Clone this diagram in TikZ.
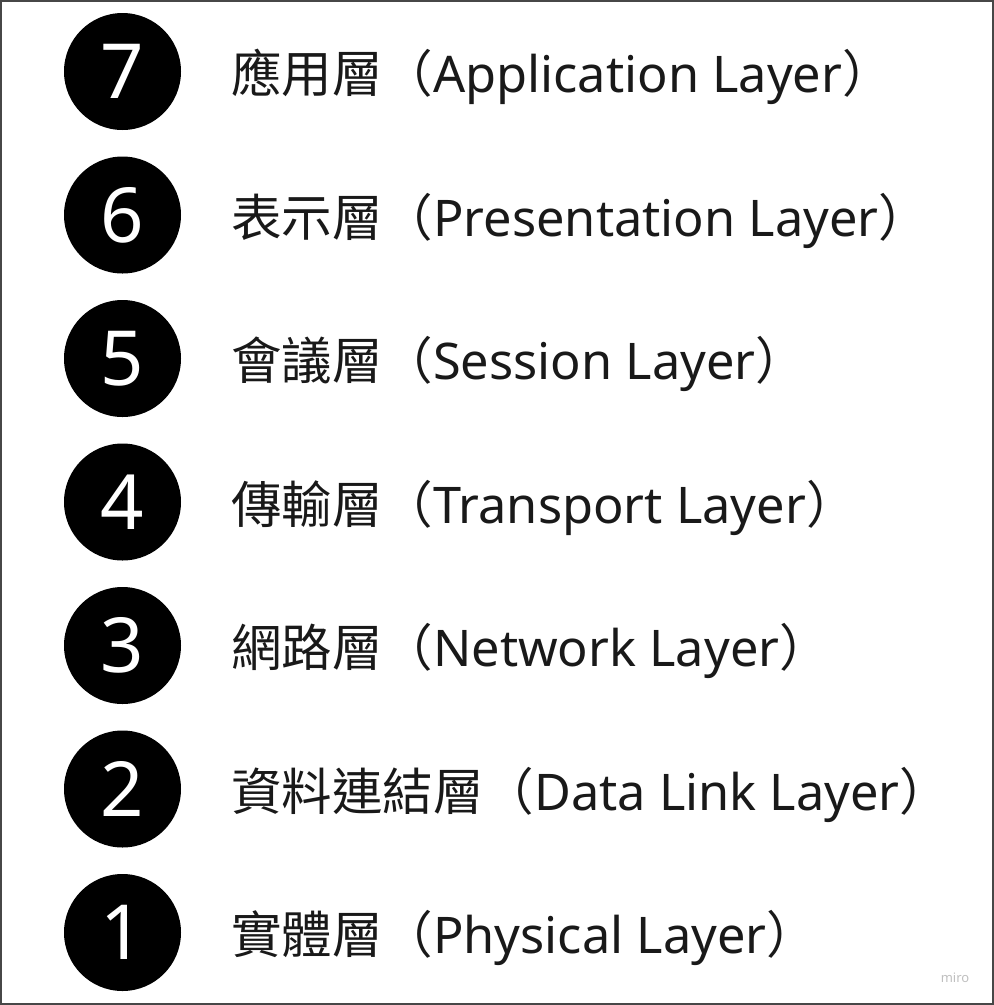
\documentclass[tikz,border=0pt]{standalone}
\usepackage{fontspec}
\setmainfont{Noto Sans}
\newfontfamily\cjk{Noto Sans CJK TC}
\usetikzlibrary{positioning}

\begin{document}
\begin{tikzpicture}[
    % GLOBAL CFG
    x=1pt, y=-1pt,
    % Styles
    frame/.style={% For the outer border
        draw=black!72,
        line width=2pt,
        },
    badge/.style={% For the black number discs
        circle,
        fill=black,
        text=white,
        minimum size=117pt,
        inner sep=0pt,
        font=\fontsize{76}{76}\selectfont,
        },
    layername/.style={% For the layer names
        anchor=base west,
        inner sep=0pt,
        text=black!90,
        font=\fontsize{50.5}{60}\selectfont,
        },
    watermark/.style={% For the small logo text
        text=black!25,
        inner sep=0pt,
        font=\fontsize{13}{13}\selectfont,
        },
    ]

    \useasboundingbox (0,0) rectangle (994,1005);
    \draw [frame] (1,1) rectangle (993,1004);

    \newcommand{\rowgap}{143.5}
    \newcommand{\basedrop}{21}

    % Draw the number discs
    \node [badge] (num_7) at (122.5,71.5) {7};
    \node [badge] (num_6) at (122.5,71.5+\rowgap) {6};
    \node [badge] (num_5) at (122.5,71.5+2*\rowgap) {5};
    \node [badge] (num_4) at (122.5,71.5+3*\rowgap) {4};
    \node [badge] (num_3) at (122.5,71.5+4*\rowgap) {3};
    \node [badge] (num_2) at (122.5,71.5+5*\rowgap) {2};
    \node [badge] (num_1) at (122.5,71.5+6*\rowgap) {1};

    % Draw the layer names
    \node [layername] (name_7) at (231,71.5+\basedrop)
        {{\cjk 應用層（}Application Layer{\cjk ）}};
    \node [layername] (name_6) at (231,71.5+\rowgap+\basedrop)
        {{\cjk 表示層（}Presentation Layer{\cjk ）}};
    \node [layername] (name_5) at (231,71.5+2*\rowgap+\basedrop)
        {{\cjk 會議層（}Session Layer{\cjk ）}};
    \node [layername] (name_4) at (231,71.5+3*\rowgap+\basedrop)
        {{\cjk 傳輸層（}Transport Layer{\cjk ）}};
    \node [layername] (name_3) at (231,71.5+4*\rowgap+\basedrop)
        {{\cjk 網路層（}Network Layer{\cjk ）}};
    \node [layername] (name_2) at (231,71.5+5*\rowgap+\basedrop)
        {{\cjk 資料連結層（}Data Link Layer{\cjk ）}};
    \node [layername] (name_1) at (231,71.5+6*\rowgap+\basedrop)
        {{\cjk 實體層（}Physical Layer{\cjk ）}};

    % Watermark
    \node [watermark] (logo) at (955,978) {miro};

\end{tikzpicture}
\end{document}
